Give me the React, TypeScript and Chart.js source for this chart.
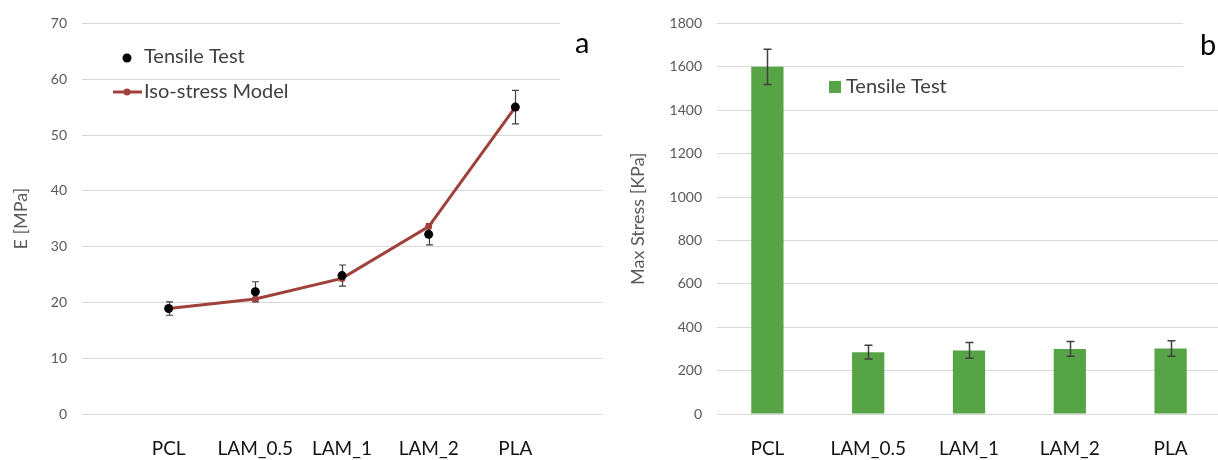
import React, { useEffect, useRef } from 'react';
import { Chart, registerables } from 'chart.js';

Chart.register(...registerables);
Chart.defaults.font.family = 'Lato';

// ---------- data ----------
const categories = ['PCL', 'LAM_0.5', 'LAM_1', 'LAM_2', 'PLA'];
const modulusTensile = [18.9, 21.9, 24.8, 32.2, 55.0];
const modulusTensileErr = [1.2, 1.8, 1.9, 1.9, 3.0];
const modulusModel = [18.9, 20.6, 24.3, 33.6, 55.0];
const modulusAxis = { min: 0, max: 70, step: 10 };
const stressTensile = [1600, 285, 293, 300, 302];
const stressTensileErr = [81, 32, 36, 34, 36];
const stressAxis = { min: 0, max: 1800, step: 200 };
const seriesTensile = 'Tensile Test';
const seriesModel = 'Iso-stress Model';
const modulusTitle = 'E [MPa]';
const stressTitle = 'Max Stress [KPa]';
const panelA = 'a';
const panelB = 'b';

// ---------- styles ----------
const LINE_COLOR = '#a0413c';
const BAR_COLOR = '#56a446';
const GRID = '#d9d9d9';
const TICK = '#595959';
const LABEL = '#141414';
const ERR = '#404040';

function errorBarPlugin(id: string, values: number[], errs: number[], width: number, cap: number, before: boolean) {
  const draw = (chart: any) => {
    const meta = chart.getDatasetMeta(0);
    const y = chart.scales.y;
    const ctx = chart.ctx;
    ctx.save();
    ctx.strokeStyle = ERR;
    ctx.lineWidth = width;
    meta.data.forEach((el: any, i: number) => {
      const x = Math.round(el.x) + 0.5;
      const top = y.getPixelForValue(values[i] + errs[i]);
      const bot = y.getPixelForValue(values[i] - errs[i]);
      ctx.beginPath();
      ctx.moveTo(x, top);
      ctx.lineTo(x, bot);
      ctx.moveTo(x - cap, top);
      ctx.lineTo(x + cap, top);
      ctx.moveTo(x - cap, bot);
      ctx.lineTo(x + cap, bot);
      ctx.stroke();
    });
    ctx.restore();
  };
  return before ? { id, beforeDatasetsDraw: draw } : { id, afterDatasetsDraw: draw };
}

function panelLabelPlugin(id: string, text: string, box: [number, number, number, number], tx: number, ty: number) {
  return {
    id,
    afterDraw(chart: any) {
      const ctx = chart.ctx;
      ctx.save();
      ctx.fillStyle = '#ffffff';
      ctx.fillRect(box[0], box[1], box[2], box[3]);
      ctx.fillStyle = '#000000';
      ctx.font = '29px Lato';
      ctx.textBaseline = 'alphabetic';
      ctx.fillText(text, tx, ty);
      ctx.restore();
    },
  };
}

const plainTick = (v: any) => String(v);

const ModulusChart: React.FC = () => {
  const ref = useRef<HTMLCanvasElement>(null);
  useEffect(() => {
    if (!ref.current) return;
    const legendPlugin = {
      id: 'modLegend',
      afterDraw(chart: any) {
        const ctx = chart.ctx;
        const ds = chart.data.datasets;
        ctx.save();
        ctx.fillStyle = '#000';
        ctx.beginPath();
        ctx.arc(127, 58, 4.5, 0, Math.PI * 2);
        ctx.fill();
        ctx.strokeStyle = LINE_COLOR;
        ctx.lineWidth = 3;
        ctx.beginPath();
        ctx.moveTo(113, 92);
        ctx.lineTo(142, 92);
        ctx.stroke();
        ctx.fillStyle = LINE_COLOR;
        ctx.beginPath();
        ctx.arc(127, 92, 3.5, 0, Math.PI * 2);
        ctx.fill();
        ctx.font = '20px Lato';
        ctx.fillStyle = '#404040';
        ctx.textBaseline = 'alphabetic';
        ctx.fillText(ds[0].label, 144, 63);
        ctx.fillText(ds[1].label, 144, 98);
        ctx.restore();
      },
    };
    const chart = new Chart(ref.current, {
      type: 'line',
      data: {
        datasets: [
          {
            label: seriesTensile,
            data: modulusTensile.map((v, i) => ({ x: i + 1, y: v })),
            showLine: false,
            pointRadius: 4.5,
            pointBackgroundColor: '#000',
            pointBorderColor: '#000',
            pointBorderWidth: 0,
          },
          {
            label: seriesModel,
            data: modulusModel.map((v, i) => ({ x: i + 1, y: v })),
            borderColor: LINE_COLOR,
            borderWidth: 3,
            pointRadius: 3.5,
            pointBackgroundColor: LINE_COLOR,
            pointBorderWidth: 0,
            tension: 0,
          },
        ],
      },
      options: {
        animation: false,
        responsive: false,
        devicePixelRatio: 1,
        layout: { padding: { top: 18, right: 10, left: 0, bottom: 0 } },
        plugins: { legend: { display: false }, tooltip: { enabled: false } },
        scales: {
          x: {
            type: 'linear',
            min: 0,
            max: categories.length + 1,
            grid: { display: false },
            border: { display: false },
            ticks: {
              stepSize: 1,
              autoSkip: false,
              maxRotation: 0,
              padding: 15,
              color: LABEL,
              font: { size: 19 },
              callback: (v: any) => categories[Number(v) - 1] ?? '',
            },
            afterFit: (s: any) => { s.height = 46; s.paddingLeft = 0; s.paddingRight = 0; },
          },
          y: {
            min: modulusAxis.min,
            max: modulusAxis.max,
            grid: { color: GRID, lineWidth: 1, drawTicks: false },
            border: { display: false },
            ticks: { stepSize: modulusAxis.step, padding: 15, color: TICK, font: { size: 14 }, callback: plainTick },
            title: { display: true, text: modulusTitle, color: TICK, font: { size: 18 }, padding: { top: 10, bottom: 0 } },
            afterFit: (s: any) => { s.width = 82; },
          },
        },
      } as any,
      plugins: [
        errorBarPlugin('modErr', modulusTensile, modulusTensileErr, 1.2, 3.5, true),
        legendPlugin,
        panelLabelPlugin('panelA', panelA, [560, 5, 60, 95], 575, 53),
      ],
    });
    return () => chart.destroy();
  }, []);
  return <canvas ref={ref} width={612} height={460} style={{ position: 'absolute', left: 0, top: 0, width: 612, height: 460 }} />;
};

const StressChart: React.FC = () => {
  const ref = useRef<HTMLCanvasElement>(null);
  useEffect(() => {
    if (!ref.current) return;
    const legendPlugin = {
      id: 'stressLegend',
      afterDraw(chart: any) {
        const ctx = chart.ctx;
        ctx.save();
        ctx.fillStyle = BAR_COLOR;
        ctx.fillRect(219, 81, 12, 12);
        ctx.font = '20px Lato';
        ctx.fillStyle = '#404040';
        ctx.textBaseline = 'alphabetic';
        ctx.fillText(chart.data.datasets[0].label, 236, 93);
        ctx.restore();
      },
    };
    const chart = new Chart(ref.current, {
      type: 'bar',
      data: {
        labels: categories,
        datasets: [
          {
            label: seriesTensile,
            data: stressTensile,
            backgroundColor: BAR_COLOR,
            borderWidth: 0,
            categoryPercentage: 0.32,
            barPercentage: 1,
          },
        ],
      },
      options: {
        animation: false,
        responsive: false,
        devicePixelRatio: 1,
        layout: { padding: { top: 18, right: 9, left: 0, bottom: 0 } },
        plugins: { legend: { display: false }, tooltip: { enabled: false } },
        scales: {
          x: {
            grid: { display: false },
            border: { display: false },
            ticks: { padding: 15, color: LABEL, font: { size: 19 }, maxRotation: 0 },
            afterFit: (s: any) => { s.height = 46; },
          },
          y: {
            min: stressAxis.min,
            max: stressAxis.max,
            grid: { color: GRID, lineWidth: 1, drawTicks: false },
            border: { display: false },
            ticks: { stepSize: stressAxis.step, padding: 15, color: TICK, font: { size: 14 }, callback: plainTick },
            title: { display: true, text: stressTitle, color: TICK, font: { size: 18 }, padding: { top: 17, bottom: 0 } },
            afterFit: (s: any) => { s.width = 107; },
          },
        },
      } as any,
      plugins: [
        errorBarPlugin('stressErr', stressTensile, stressTensileErr, 1.5, 4, false),
        legendPlugin,
        panelLabelPlugin('panelB', panelB, [573, 5, 60, 72], 590, 55),
      ],
    });
    return () => chart.destroy();
  }, []);
  return <canvas ref={ref} width={620} height={460} style={{ position: 'absolute', left: 610, top: 0, width: 620, height: 460 }} />;
};

export default function App() {
  return (
    <div style={{ position: 'fixed', left: 0, top: 0, width: 1218, height: 460, overflow: 'hidden', background: '#fff' }}>
      <StressChart />
      <ModulusChart />
    </div>
  );
}
